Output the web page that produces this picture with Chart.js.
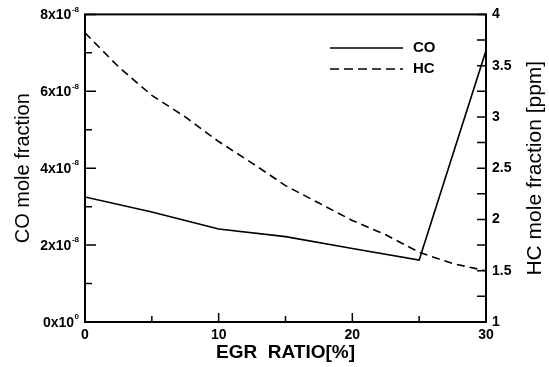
<!DOCTYPE html>
<html>
<head>
<meta charset="utf-8">
<script src="https://cdn.jsdelivr.net/npm/chart.js@4/dist/chart.umd.min.js"></script>
<style>
  html, body { margin: 0; padding: 0; background: #fff; }
  #wrap { width: 549px; height: 367px; }
</style>
</head>
<body>
<div id="wrap"><canvas id="egrChart"></canvas></div>
<script>
// EGR ratio [%]
const egrRatio = [0, 5, 10, 15, 20, 25, 30];
const coFraction = [3.25e-8, 2.86e-8, 2.42e-8, 2.22e-8, 1.91e-8, 1.61e-8, 7.06e-8];

const hcRatio = [0, 2.5, 5, 7.5, 10, 12.5, 15, 17.5, 20, 22.5, 25, 27.5, 30];
const hcPpm = [3.82, 3.49, 3.21, 3.0, 2.76, 2.55, 2.33, 2.16, 1.99, 1.85, 1.68, 1.57, 1.5];

// left axis tick labels: mantissa x 10^exp
const coTickMantissa = [0, 2, 4, 6, 8];
const coTickExp = ['0', '-8', '-8', '-8', '-8'];

const FONT = '"Liberation Sans", Arial, sans-serif';

const ctx = document.getElementById('egrChart');

const decorations = {
  id: 'decorations',
  afterDraw(chart) {
    const c = chart.ctx;
    const { left, right, top, bottom } = chart.chartArea;
    const x = chart.scales.x, y = chart.scales.y, y2 = chart.scales.y2;
    c.save();
    c.strokeStyle = '#000';
    c.fillStyle = '#000';

    // frame
    c.lineWidth = 2;
    c.strokeRect(left, top, right - left, bottom - top);

    // inward ticks
    c.lineWidth = 1.5;
    c.beginPath();
    for (let v = 0; v <= 30; v += 5) {
      const px = x.getPixelForValue(v);
      const len = v % 10 === 0 ? 9 : 6;
      c.moveTo(px, bottom); c.lineTo(px, bottom - len);
    }
    for (let i = 0; i <= 8; i++) {
      const py = y.getPixelForValue(i * 1e-8);
      const len = i % 2 === 0 ? 11 : 7;
      c.moveTo(left, py); c.lineTo(left + len, py);
    }
    for (let v = 1; v <= 4.001; v += 0.25) {
      const py = y2.getPixelForValue(v);
      c.moveTo(right, py); c.lineTo(right - 9, py);
    }
    c.stroke();

    // left tick labels with superscript
    c.textBaseline = 'middle';
    coTickMantissa.forEach((m, i) => {
      const py = y.getPixelForValue(m * 1e-8);
      const sup = coTickExp[i];
      c.font = 'bold 8px ' + FONT;
      const supW = c.measureText(sup).width;
      const xEnd = left - 6;
      c.textAlign = 'right';
      c.fillText(sup, xEnd, py - 5);
      c.font = 'bold 14px ' + FONT;
      c.fillText(m + 'x10', xEnd - supW - 0.5, py + 1);
    });

    // axis titles
    c.textAlign = 'center';
    c.textBaseline = 'middle';
    c.save();
    c.translate(23, (top + bottom) / 2);
    c.rotate(-Math.PI / 2);
    c.font = '20px ' + FONT;
    c.fillText('CO mole fraction', 0, 0);
    c.restore();

    c.save();
    c.translate(535, (top + bottom) / 2);
    c.rotate(-Math.PI / 2);
    c.font = '21px ' + FONT;
    c.fillText('HC mole fraction [ppm]', 0, 0);
    c.restore();

    // legend
    c.lineWidth = 1.5;
    c.beginPath();
    c.moveTo(330, 48); c.lineTo(403, 48);
    c.stroke();
    c.setLineDash([9, 5]);
    c.beginPath();
    c.moveTo(330, 69); c.lineTo(403, 69);
    c.stroke();
    c.setLineDash([]);
    c.font = 'bold 15px ' + FONT;
    c.textAlign = 'left';
    c.fillText(chart.data.datasets[0].label, 413, 48);
    c.fillText(chart.data.datasets[1].label, 413, 69);
    c.restore();
  }
};

new Chart(ctx, {
  type: 'line',
  data: {
    datasets: [
      {
        label: 'CO',
        data: egrRatio.map((v, i) => ({ x: v, y: coFraction[i] })),
        yAxisID: 'y',
        borderColor: '#000',
        borderWidth: 1.6,
        pointRadius: 0,
        tension: 0
      },
      {
        label: 'HC',
        data: hcRatio.map((v, i) => ({ x: v, y: hcPpm[i] })),
        yAxisID: 'y2',
        borderColor: '#000',
        borderWidth: 1.6,
        borderDash: [8, 5],
        pointRadius: 0,
        tension: 0
      }
    ]
  },
  options: {
    responsive: true,
    maintainAspectRatio: false,
    animation: false,
    layout: { padding: { top: 14, left: 0, right: 0, bottom: 0 } },
    plugins: {
      legend: { display: false },
      tooltip: { enabled: false }
    },
    scales: {
      x: {
        type: 'linear',
        min: 0,
        max: 30,
        grid: { display: false, drawTicks: false },
        border: { display: false },
        ticks: {
          stepSize: 10,
          padding: 5,
          color: '#000',
          font: { family: FONT, size: 14, weight: 'bold' }
        },
        title: {
          display: true,
          text: 'EGR  RATIO[%]',
          color: '#000',
          font: { family: FONT, size: 19, weight: 'bold' },
          padding: { top: 0, bottom: 3 }
        },
        afterFit: s => { s.height = 45; }
      },
      y: {
        position: 'left',
        min: 0,
        max: 8e-8,
        grid: { display: false, drawTicks: false },
        border: { display: false },
        ticks: { display: false },
        afterFit: s => { s.width = 85; }
      },
      y2: {
        position: 'right',
        min: 1,
        max: 4,
        grid: { display: false, drawTicks: false },
        border: { display: false },
        ticks: {
          stepSize: 0.5,
          padding: 6,
          color: '#000',
          font: { family: FONT, size: 14, weight: 'bold' },
          callback: v => String(v)
        },
        afterFit: s => { s.width = 63; }
      }
    }
  },
  plugins: [decorations]
});
</script>
</body>
</html>
